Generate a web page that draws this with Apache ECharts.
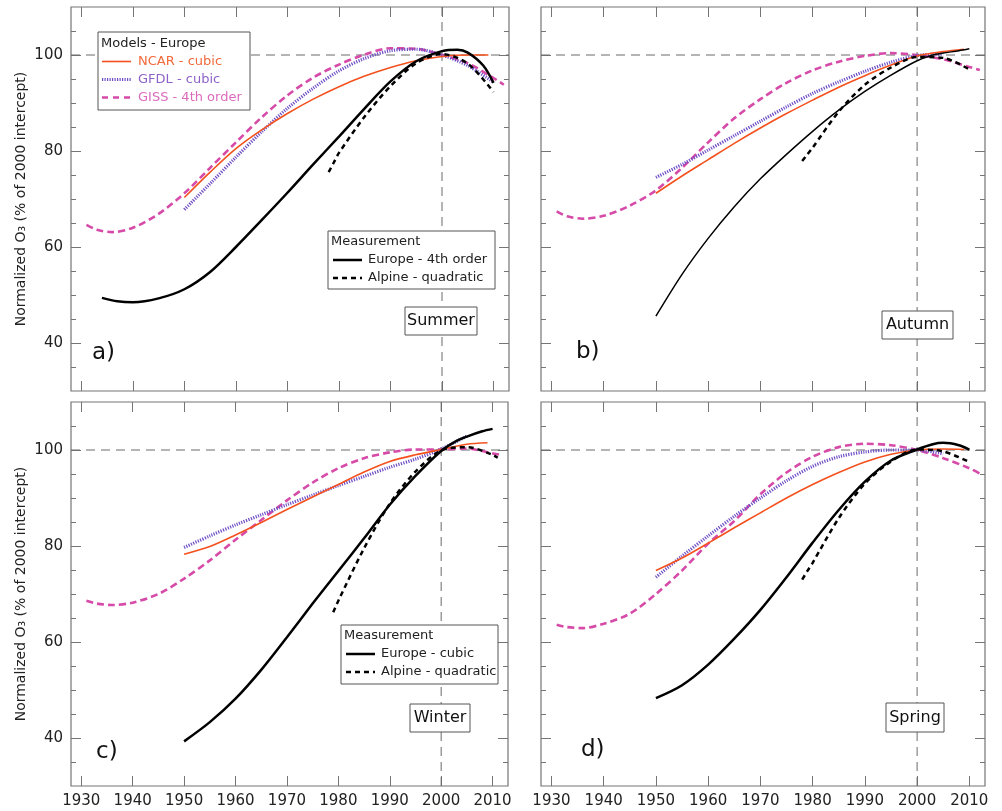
<!DOCTYPE html>
<html>
<head>
<meta charset="utf-8">
<script src="https://cdn.jsdelivr.net/npm/echarts@6/dist/echarts.min.js"></script>
<style>
  html, body { margin: 0; padding: 0; background: #fff; }
  #chart { width: 1002px; height: 811px; }
</style>
</head>
<body>
<div id="chart"></div>
<script>
/* axes */
const xRange = [1928, 2013];
const yRange = [30, 110];
const xTicks = [1930, 1940, 1950, 1960, 1970, 1980, 1990, 2000, 2010];
const yMajor = [40, 60, 80, 100];
const yMinor = [35, 45, 50, 55, 65, 70, 75, 85, 90, 95, 105];
const refYear = 2000;
const refLevel = 100;

const seasons = ['Summer', 'Autumn', 'Winter', 'Spring'];
const panelTags = ['a)', 'b)', 'c)', 'd)'];
const yName = 'Normalized O₃ (% of 2000 intercept)';

/* GISS - 4th order */
const yrsGiss = [1931, 1933, 1936, 1940, 1945, 1950, 1955, 1960, 1965, 1970, 1975, 1980, 1985, 1990, 1995, 2000, 2005, 2010, 2012];
const gissSummer = [64.6, 63.6, 63.1, 64.0, 66.9, 71.2, 76.5, 81.8, 87.0, 91.6, 95.3, 98.0, 100.1, 101.4, 101.3, 100.0, 98.3, 95.2, 93.8];
const gissAutumn = [67.4, 66.4, 65.9, 66.5, 68.6, 71.8, 76.5, 81.8, 86.8, 90.8, 94.2, 96.8, 98.6, 99.8, 100.4, 100.0, 99.1, 97.5, 96.9];
const gissWinter = [68.6, 68.0, 67.7, 68.2, 70.0, 73.2, 77.0, 81.3, 85.4, 89.5, 93.2, 96.2, 98.3, 99.5, 100.1, 100.1, 100.3, 99.3, 98.9];
const gissSpring = [63.6, 63.1, 62.9, 63.8, 65.9, 70.0, 74.9, 80.5, 85.2, 90.8, 95.3, 98.6, 100.6, 101.3, 101.0, 100.0, 98.3, 96.2, 95.1];

/* NCAR - cubic */
const yrsNcar = [1950, 1955, 1960, 1965, 1970, 1975, 1980, 1985, 1990, 1995, 2000, 2005, 2009];
const ncarSummer = [70.3, 75.6, 80.5, 84.4, 87.8, 90.8, 93.4, 95.6, 97.4, 98.8, 99.7, 100.0, 100.0];
const ncarAutumn = [71.2, 74.8, 78.2, 81.6, 84.8, 87.8, 90.6, 93.3, 95.7, 97.9, 99.8, 100.7, 101.2];
const ncarWinter = [78.3, 79.9, 82.3, 84.9, 87.6, 90.2, 92.8, 95.4, 97.6, 99.0, 100.1, 101.2, 101.5];
const ncarSpring = [74.9, 77.5, 80.6, 83.8, 86.9, 90.0, 92.8, 95.3, 97.5, 99.1, 100.0, 100.2, 100.1];

/* GFDL - cubic */
const yrsGfdl = [1950, 1955, 1960, 1965, 1970, 1975, 1980, 1985, 1990, 1995, 2000, 2005, 2010];
const gfdlSummer = [67.8, 73.2, 78.7, 84.0, 88.9, 93.1, 96.7, 99.3, 100.9, 101.2, 100.0, 97.8, 94.3];
const gfdlAutumn = [74.5, 77.2, 80.2, 83.2, 86.2, 89.2, 92.0, 94.4, 96.6, 98.5, 99.9, 100.2, null];
const gfdlWinter = [79.7, 82.1, 84.4, 86.5, 88.6, 90.6, 92.6, 94.5, 96.4, 98.1, 100.2, 102.9, null];
const gfdlSpring = [73.5, 77.9, 82.1, 86.2, 90.0, 93.6, 96.6, 98.6, 99.6, 100.0, 100.0, 99.2, null];

/* Measurement - Europe */
const yrsEurope = [1934, 1937, 1940, 1945, 1950, 1955, 1960, 1965, 1970, 1975, 1980, 1985, 1990, 1995, 2000, 2003, 2005, 2008, 2010];
const europeSummer = [49.4, 48.7, 48.5, 49.3, 51.2, 54.8, 60.0, 65.6, 71.3, 77.2, 83.0, 88.9, 94.5, 98.7, 100.8, 101.1, 100.5, 97.8, 94.2];
const europeAutumn = [null, null, null, null, 45.6, 54.3, 61.8, 68.4, 74.2, 79.3, 84.1, 88.5, 92.4, 95.8, 98.8, 100.0, 100.4, 100.9, 101.3];
const europeWinter = [null, null, null, null, 39.3, 43.3, 48.2, 54.2, 61.0, 68.0, 74.8, 81.6, 88.6, 94.6, 99.8, 101.9, 102.8, 103.9, 104.4];
const europeSpring = [null, null, null, null, 48.3, 51.0, 55.3, 60.7, 66.7, 73.5, 80.7, 87.5, 93.4, 97.8, 100.1, 101.2, 101.5, 101.0, 100.1];

/* Measurement - Alpine (quadratic) */
const yrsAlpine = [1978, 1979, 1980, 1985, 1990, 1995, 2000, 2005, 2010, 2011];
const alpineSummer = [75.6, 77.6, 79.6, 87.2, 93.5, 98.3, 100.2, 98.2, 92.3, null];
const alpineAutumn = [77.9, 79.3, 80.7, 88.2, 93.8, 97.4, 99.6, 99.4, 97.0, null];
const alpineWinter = [null, 66.2, 68.6, 79.5, 88.8, 95.5, 99.9, 100.6, 99.0, 98.4];
const alpineSpring = [73.0, 74.8, 76.5, 85.8, 93.0, 97.6, 100.1, 99.7, 97.5, null];

const gissAll = [gissSummer, gissAutumn, gissWinter, gissSpring];
const ncarAll = [ncarSummer, ncarAutumn, ncarWinter, ncarSpring];
const gfdlAll = [gfdlSummer, gfdlAutumn, gfdlWinter, gfdlSpring];
const europeAll = [europeSummer, europeAutumn, europeWinter, europeSpring];
const alpineAll = [alpineSummer, alpineAutumn, alpineWinter, alpineSpring];

/* ---------- layout / style ---------- */
const FONT = 'DejaVu Sans';
const C = { ncar: '#f4511e', gfdl: '#6e4fc6', giss: '#d64aa8', frame: '#757575', ref: '#6a6a6a' };
const TXT = { ncar: '#f26a3c', gfdl: '#8e63c9', giss: '#dc6bbd' };

const grids = [
  { left: 71,  top: 7,   width: 438, height: 384 },
  { left: 541, top: 7,   width: 444, height: 384 },
  { left: 71,  top: 402, width: 437, height: 384 },
  { left: 541, top: 402, width: 444, height: 384 },
];

function pts(years, vals) {
  return years.map((y, i) => [y, vals[i]]).filter(p => p[1] != null);
}

const tickStyle = { color: C.frame, width: 1 };
const plain = v => String(v);

const xAxis = [], yAxis = [], series = [];
grids.forEach((g, i) => {
  const bottomRow = i >= 2, leftCol = i % 2 === 0;
  ['bottom', 'top'].forEach(pos => xAxis.push({
    type: 'value', gridIndex: i, min: xRange[0], max: xRange[1], position: pos,
    axisLine: { show: false }, splitLine: { show: false },
    axisTick: { inside: true, length: 10, lineStyle: tickStyle, customValues: xTicks },
    axisLabel: { show: pos === 'bottom' && bottomRow, customValues: xTicks, formatter: plain,
                 fontFamily: FONT, fontSize: 15, color: '#222', margin: 8 },
  }));
  ['left', 'right'].forEach(pos => {
    yAxis.push({
      type: 'value', gridIndex: i, min: yRange[0], max: yRange[1], position: pos,
      axisLine: { show: false }, splitLine: { show: false },
      axisTick: { inside: true, length: 10, lineStyle: tickStyle, customValues: yMajor },
      axisLabel: { show: pos === 'left' && leftCol, customValues: yMajor, formatter: plain,
                   fontFamily: FONT, fontSize: 15, color: '#222', margin: 8 },
      name: pos === 'left' && leftCol ? yName : '',
      nameLocation: 'middle', nameRotate: 90, nameGap: 43,
      nameTextStyle: { fontFamily: FONT, fontSize: 14, color: '#222' },
    });
    yAxis.push({
      type: 'value', gridIndex: i, min: yRange[0], max: yRange[1], position: pos,
      axisLine: { show: false }, splitLine: { show: false },
      axisTick: { inside: true, length: 5, lineStyle: tickStyle, customValues: yMinor },
      axisLabel: { show: false },
    });
  });

  const base = { type: 'line', xAxisIndex: i * 2, yAxisIndex: i * 4, showSymbol: false,
                 symbol: 'none', smooth: 0.3, silent: true };
  // 参考线：100 % 与 2000 年
  series.push({ ...base, smooth: false, z: 1, data: [[xRange[0], refLevel], [xRange[1], refLevel]],
                lineStyle: { color: C.ref, width: 1, type: [9, 6] } });
  series.push({ ...base, smooth: false, z: 1, data: [[refYear, yRange[0]], [refYear, yRange[1]]],
                lineStyle: { color: C.ref, width: 1, type: [9, 6] } });

  series.push({ ...base, name: 'GISS', data: pts(yrsGiss, gissAll[i]),
                lineStyle: { color: C.giss, width: 2.6, type: [7, 4] } });
  series.push({ ...base, name: 'GFDL', data: pts(yrsGfdl, gfdlAll[i]),
                lineStyle: { color: C.gfdl, width: 3.2, type: [1.2, 1.3] } });
  series.push({ ...base, name: 'NCAR', data: pts(yrsNcar, ncarAll[i]),
                lineStyle: { color: C.ncar, width: 1.6 } });
  series.push({ ...base, name: 'Europe', data: pts(yrsEurope, europeAll[i]),
                lineStyle: { color: '#000', width: i === 1 ? 1.5 : 2.5 } });
  series.push({ ...base, name: 'Alpine', data: pts(yrsAlpine, alpineAll[i]),
                lineStyle: { color: '#000', width: 2.5, type: [5, 4] } });
});

/* ---------- legends, season boxes, panel tags ---------- */
const graphic = [];
function box(x, y, w, h) {
  graphic.push({ type: 'rect', z: 100, shape: { x, y, width: w, height: h },
                 style: { fill: '#fff', stroke: '#555', lineWidth: 1 } });
}
function text(x, y, s, size, color, align) {
  graphic.push({ type: 'text', z: 101, x, y,
                 style: { text: s, fontFamily: FONT, fontSize: size, fill: color,
                          align: align || 'left', verticalAlign: 'middle' } });
}
function sample(x1, x2, y, stroke, width, dash) {
  graphic.push({ type: 'line', z: 101, shape: { x1, y1: y, x2, y2: y },
                 style: { stroke, lineWidth: width, lineDash: dash || null } });
}

// Models - Europe (panel a)
box(98, 32, 152, 78);
text(101, 44, 'Models - Europe', 13, '#222');
sample(102, 131, 61.5, C.ncar, 1.6);
text(138, 61.5, 'NCAR - cubic', 13, TXT.ncar);
sample(102, 131, 79.5, C.gfdl, 3, [1.2, 1.3]);
text(138, 79.5, 'GFDL - cubic', 13, TXT.gfdl);
sample(102, 131, 97.5, C.giss, 2.6, [6, 5]);
text(138, 97.5, 'GISS - 4th order', 13, TXT.giss);

// Measurement (panels a, c)
const measLabels = ['Europe - 4th order', 'Europe - cubic'];
[[328, 231, 167, 58, 0], [341, 625, 157, 59, 1]].forEach(([x, y, w, h, k]) => {
  box(x, y, w, h);
  text(x + 3, y + 11, 'Measurement', 13, '#222');
  sample(x + 5, x + 34, y + 29, '#000', 2.5);
  text(x + 40, y + 29, measLabels[k], 13, '#222');
  sample(x + 5, x + 34, y + 47, '#000', 2.5, [5, 4]);
  text(x + 40, y + 47, 'Alpine - quadratic', 13, '#222');
});

// season boxes + panel tags
const seasonBoxes = [[405, 307, 72, 28], [882, 311, 71, 28], [410, 704, 60, 28], [886, 703, 58, 29]];
seasonBoxes.forEach(([x, y, w, h], i) => {
  box(x, y, w, h);
  text(x + w / 2, y + h / 2, seasons[i], 16, '#111', 'center');
});
const tagPos = [[92, 353], [576, 352], [96, 752], [581, 750]];
tagPos.forEach(([x, y], i) => text(x, y, panelTags[i], 23, '#111'));

const chart = echarts.init(document.getElementById('chart'), null, { renderer: 'canvas' });
chart.setOption({
  animation: false,
  backgroundColor: '#fff',
  grid: grids.map(g => ({ ...g, show: true, borderColor: C.frame, borderWidth: 1.2, backgroundColor: 'transparent' })),
  xAxis, yAxis, series, graphic,
});
</script>
</body>
</html>
